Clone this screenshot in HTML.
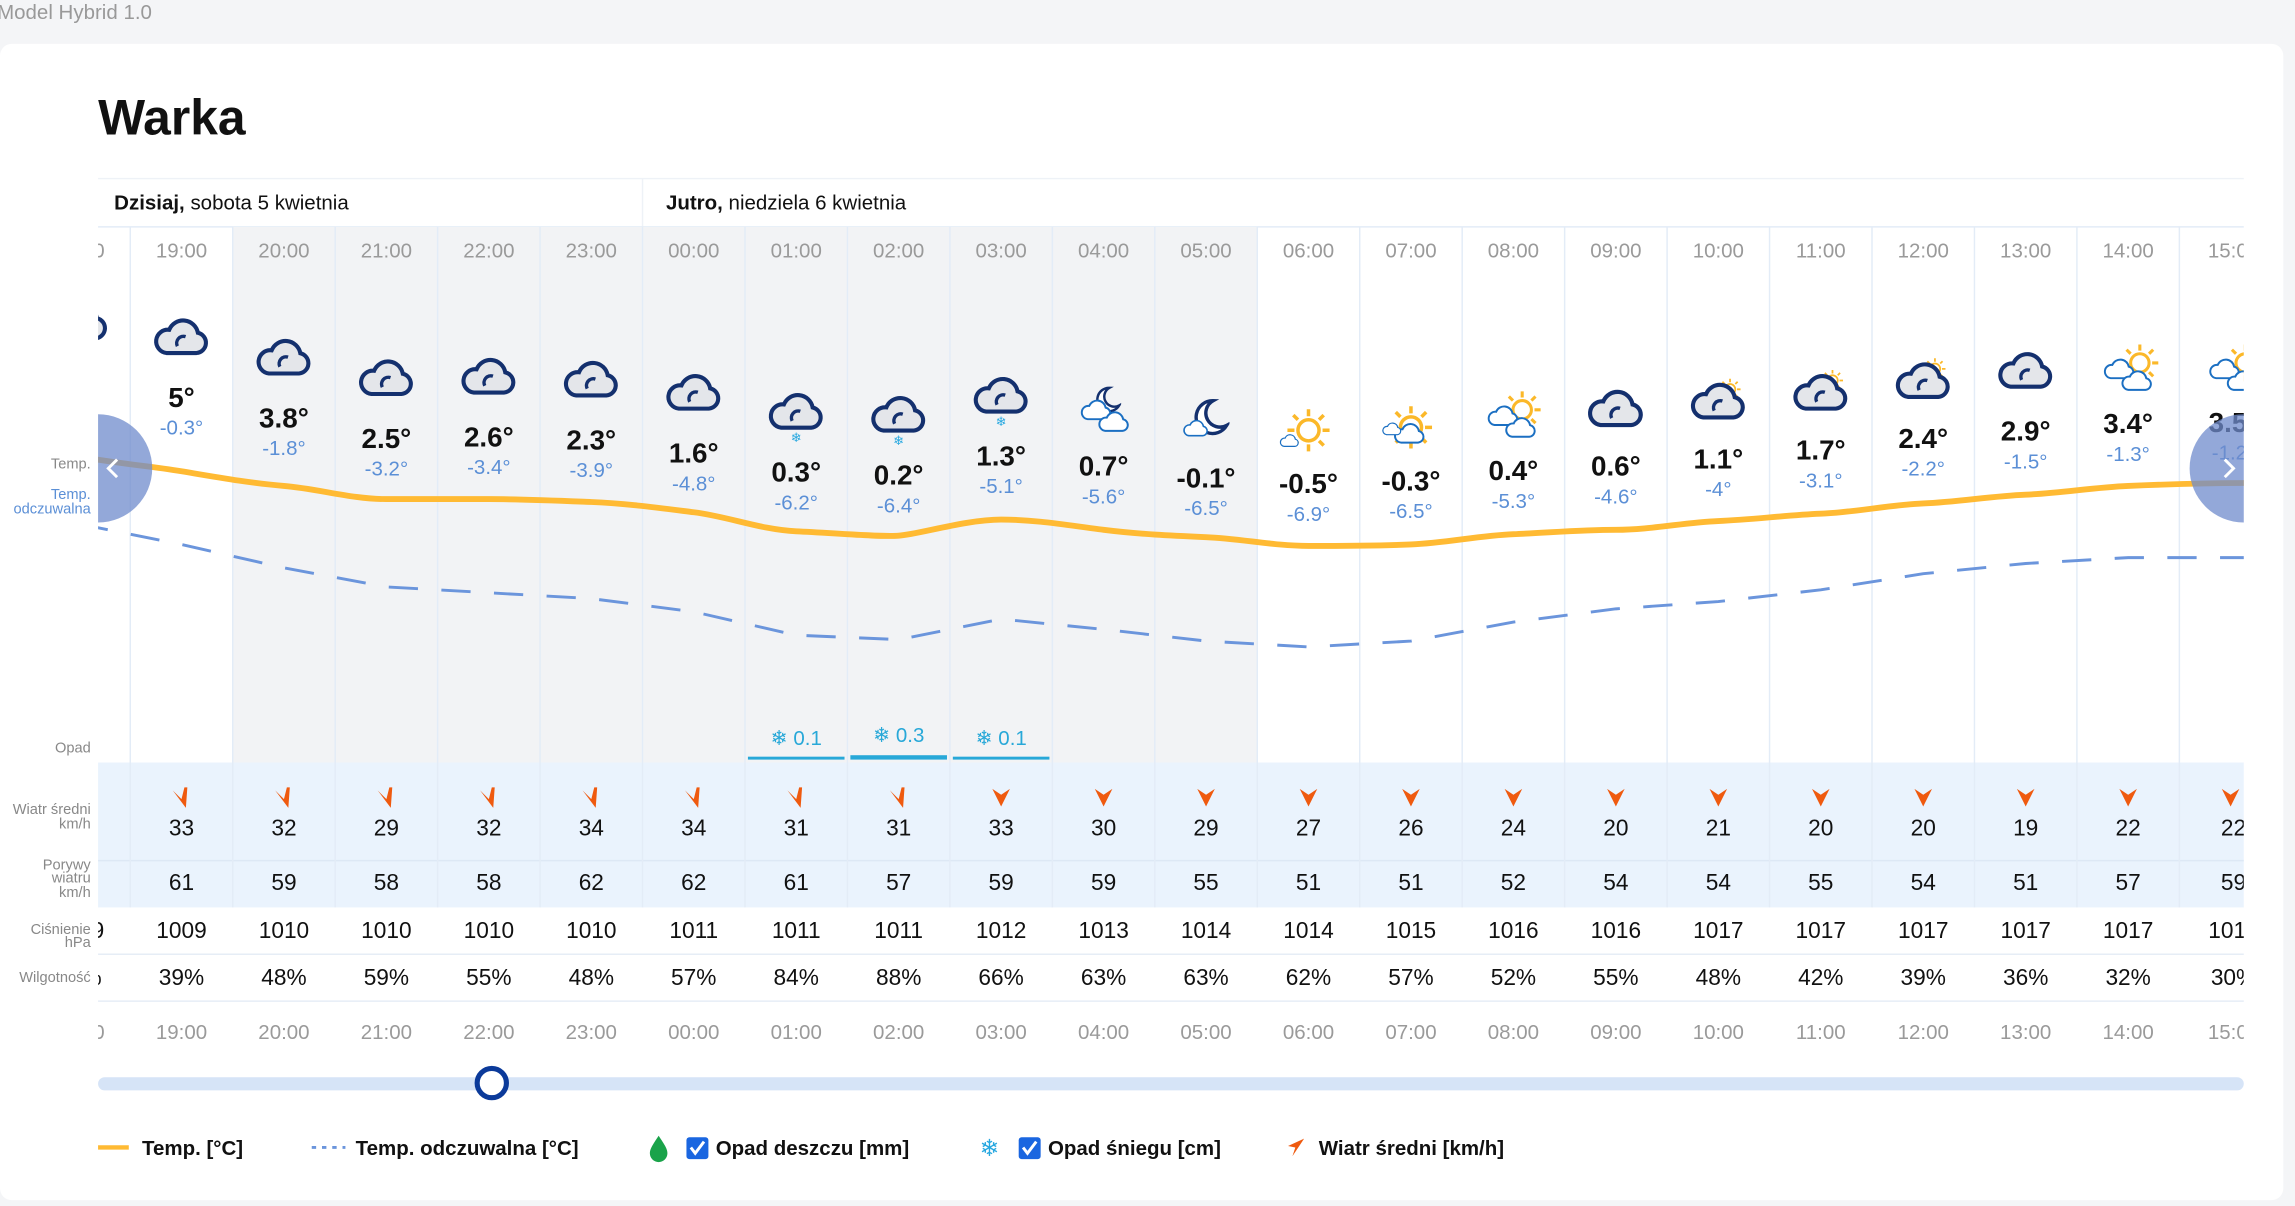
<!DOCTYPE html>
<html><head><meta charset="utf-8"><style>
html,body{margin:0;padding:0;background:#f4f5f7;}
svg{display:block;font-family:"Liberation Sans",sans-serif;}
.h{font-size:14px;fill:#9a9a9a;text-anchor:middle}
.t{font-size:19px;font-weight:bold;fill:#111;text-anchor:middle}
.f{font-size:14px;fill:#5b8fd6;text-anchor:middle}
.v{font-size:15.5px;fill:#111;text-anchor:middle}
.l{font-size:10px;fill:#888;text-anchor:end}
.g{font-size:14px;font-weight:bold;fill:#111}
</style></head><body>
<svg width="2295" height="1206" viewBox="0 0 1568 824" preserveAspectRatio="none">
<defs>
<symbol id="c" viewBox="0 0 40 30"><path d="M9 27H31a7.5 7.5 0 0 0 1-14.8A11 11 0 0 0 11 10a8.5 8.5 0 0 0-2 17z" fill="#e4e6ea" stroke="#14306e" stroke-width="3"/><path d="M17 22a5 5 0 0 1 6-7" fill="none" stroke="#14306e" stroke-width="2.5"/></symbol>
<symbol id="s" viewBox="0 0 40 40"><g stroke="#fbb829" stroke-width="3"><line x1="20" y1="2" x2="20" y2="8"/><line x1="20" y1="32" x2="20" y2="38"/><line x1="2" y1="20" x2="8" y2="20"/><line x1="32" y1="20" x2="38" y2="20"/><line x1="7" y1="7" x2="11" y2="11"/><line x1="29" y1="29" x2="33" y2="33"/><line x1="7" y1="33" x2="11" y2="29"/><line x1="29" y1="11" x2="33" y2="7"/></g><circle cx="20" cy="20" r="9" fill="#fff" stroke="#fbb829" stroke-width="3"/></symbol>
<symbol id="bc" viewBox="0 0 40 30"><path d="M9 27H31a7.5 7.5 0 0 0 1-14.8A11 11 0 0 0 11 10a8.5 8.5 0 0 0-2 17z" fill="#fff" stroke="#1b6fc2" stroke-width="2.5"/></symbol>
<symbol id="m" viewBox="0 0 30 30"><path d="M18 3a12 12 0 1 0 10 18A10 10 0 0 1 18 3z" fill="#fff" stroke="#14306e" stroke-width="2.5"/></symbol>
<symbol id="a" viewBox="0 0 14 16"><path d="M1 3 L7 9 L9 1 L11 1 L10 15 Z" fill="#ef5a0f"/></symbol>
<clipPath id="cp"><rect x="67" y="150" width="1466" height="580"/></clipPath>
</defs>
<text x="-2" y="13" font-size="14" fill="#999">Model Hybrid 1.0</text>
<rect x="0" y="30" width="1560" height="790" rx="8" fill="#fff"/>
<text x="67" y="92" font-size="34" font-weight="bold" fill="#111">Warka</text>
<line x1="67" y1="122" x2="1533" y2="122" stroke="#eef2f7"/>
<line x1="439" y1="122" x2="439" y2="155" stroke="#eef2f7"/>
<line x1="67" y1="155" x2="1533" y2="155" stroke="#e3ecf7"/>
<text x="78" y="143" font-size="14" fill="#111"><tspan font-weight="bold">Dzisiaj,</tspan> sobota 5 kwietnia</text>
<text x="455" y="143" font-size="14" fill="#111"><tspan font-weight="bold">Jutro,</tspan> niedziela 6 kwietnia</text>
<text class="l" x="62" y="320">Temp.</text>
<text class="l" x="62" y="341" fill="#5b8fd6" style="fill:#5b8fd6">Temp.</text>
<text class="l" x="62" y="351" style="fill:#5b8fd6">odczuwalna</text>
<text class="l" x="62" y="514">Opad</text>
<text class="l" x="62" y="556">Wiatr średni</text>
<text class="l" x="62" y="566">km/h</text>
<text class="l" x="62" y="594">Porywy</text>
<text class="l" x="62" y="603">wiatru</text>
<text class="l" x="62" y="613">km/h</text>
<text class="l" x="62" y="638">Ciśnienie</text>
<text class="l" x="62" y="647">hPa</text>
<text class="l" x="62" y="671">Wilgotność</text>
<g clip-path="url(#cp)">
<rect x="159" y="155" width="700" height="366" fill="#f2f3f5"/>
<rect x="0" y="521" width="1600" height="99" fill="#eaf3fd"/>
<line x1="0" y1="588" x2="1600" y2="588" stroke="#dde8f5"/>
<line x1="0" y1="652" x2="1600" y2="652" stroke="#e6edf6"/>
<line x1="0" y1="684" x2="1600" y2="684" stroke="#e6edf6"/>
<g stroke="#e3ecf7">
<line x1="89" y1="155" x2="89" y2="620"/><line x1="159" y1="155" x2="159" y2="620"/><line x1="229" y1="155" x2="229" y2="620"/><line x1="299" y1="155" x2="299" y2="620"/><line x1="369" y1="155" x2="369" y2="620"/><line x1="439" y1="155" x2="439" y2="620"/><line x1="509" y1="155" x2="509" y2="620"/><line x1="579" y1="155" x2="579" y2="620"/><line x1="649" y1="155" x2="649" y2="620"/><line x1="719" y1="155" x2="719" y2="620"/><line x1="789" y1="155" x2="789" y2="620"/><line x1="859" y1="155" x2="859" y2="620"/><line x1="929" y1="155" x2="929" y2="620"/><line x1="999" y1="155" x2="999" y2="620"/><line x1="1069" y1="155" x2="1069" y2="620"/><line x1="1139" y1="155" x2="1139" y2="620"/><line x1="1209" y1="155" x2="1209" y2="620"/><line x1="1279" y1="155" x2="1279" y2="620"/><line x1="1349" y1="155" x2="1349" y2="620"/><line x1="1419" y1="155" x2="1419" y2="620"/><line x1="1489" y1="155" x2="1489" y2="620"/>
</g>
<path d="M54 312 C90 318,100 318,124 322 S170 330,194 332 S240 341,264 341 S310 341,334 341 S380 342,404 343 S450 347,474 350 S520 362,544 363 S600 367,614 366 S660 355,684 355 S730 359,754 362 S800 366,824 367 S870 373,894 373 S940 373,964 372 S1010 366,1034 365 S1080 362,1104 362 S1150 357,1174 356 S1220 352,1244 351 S1290 345,1314 344 S1360 339,1384 338 S1430 333,1454 332 S1510 330,1540 330" fill="none" stroke="#ffba33" stroke-width="4"/>
<path d="M54 358 L124 372 L194 388 L264 401 L334 405 L404 409 L474 418 L544 434 L614 437 L684 423 L754 430 L824 438 L894 442 L964 438 L1034 425 L1104 416 L1174 411 L1244 403 L1314 392 L1384 385 L1454 381 L1540 381" fill="none" stroke="#6b95dc" stroke-width="2" stroke-dasharray="20 16"/>
<g class="h"><text class="h" x="54" y="176">18:00</text><text class="h" x="124" y="176">19:00</text><text class="h" x="194" y="176">20:00</text><text class="h" x="264" y="176">21:00</text><text class="h" x="334" y="176">22:00</text><text class="h" x="404" y="176">23:00</text><text class="h" x="474" y="176">00:00</text><text class="h" x="544" y="176">01:00</text><text class="h" x="614" y="176">02:00</text><text class="h" x="684" y="176">03:00</text><text class="h" x="754" y="176">04:00</text><text class="h" x="824" y="176">05:00</text><text class="h" x="894" y="176">06:00</text><text class="h" x="964" y="176">07:00</text><text class="h" x="1034" y="176">08:00</text><text class="h" x="1104" y="176">09:00</text><text class="h" x="1174" y="176">10:00</text><text class="h" x="1244" y="176">11:00</text><text class="h" x="1314" y="176">12:00</text><text class="h" x="1384" y="176">13:00</text><text class="h" x="1454" y="176">14:00</text><text class="h" x="1526" y="176">15:00</text></g>
<g class="h"><text class="h" x="54" y="710">18:00</text><text class="h" x="124" y="710">19:00</text><text class="h" x="194" y="710">20:00</text><text class="h" x="264" y="710">21:00</text><text class="h" x="334" y="710">22:00</text><text class="h" x="404" y="710">23:00</text><text class="h" x="474" y="710">00:00</text><text class="h" x="544" y="710">01:00</text><text class="h" x="614" y="710">02:00</text><text class="h" x="684" y="710">03:00</text><text class="h" x="754" y="710">04:00</text><text class="h" x="824" y="710">05:00</text><text class="h" x="894" y="710">06:00</text><text class="h" x="964" y="710">07:00</text><text class="h" x="1034" y="710">08:00</text><text class="h" x="1104" y="710">09:00</text><text class="h" x="1174" y="710">10:00</text><text class="h" x="1244" y="710">11:00</text><text class="h" x="1314" y="710">12:00</text><text class="h" x="1384" y="710">13:00</text><text class="h" x="1454" y="710">14:00</text><text class="h" x="1526" y="710">15:00</text></g>
<!-- icons -->
<use href="#c" x="36" y="206" width="38" height="28"/>
<use href="#c" x="105" y="216" width="38" height="28"/>
<use href="#c" x="175" y="230" width="38" height="28"/>
<use href="#c" x="245" y="244" width="38" height="28"/>
<use href="#c" x="315" y="243" width="38" height="28"/>
<use href="#c" x="385" y="245" width="38" height="28"/>
<use href="#c" x="455" y="254" width="38" height="28"/>
<use href="#c" x="525" y="267" width="38" height="28"/><text x="544" y="302" font-size="9" fill="#28a8e0" text-anchor="middle">❄</text>
<use href="#c" x="595" y="269" width="38" height="28"/><text x="614" y="304" font-size="9" fill="#28a8e0" text-anchor="middle">❄</text>
<use href="#c" x="665" y="256" width="38" height="28"/><text x="684" y="291" font-size="9" fill="#28a8e0" text-anchor="middle">❄</text>
<use href="#m" x="746" y="263" width="20" height="20"/><use href="#bc" x="738" y="272" width="22" height="16"/><use href="#bc" x="750" y="280" width="22" height="16"/>
<use href="#m" x="812" y="271" width="28" height="28"/><use href="#bc" x="808" y="286" width="18" height="13"/>
<use href="#s" x="878" y="278" width="32" height="32"/><use href="#bc" x="874" y="296" width="14" height="10"/>
<use href="#s" x="948" y="276" width="32" height="32"/><use href="#bc" x="952" y="288" width="22" height="16"/><use href="#bc" x="944" y="288" width="14" height="10"/>
<use href="#s" x="1026" y="266" width="28" height="28"/><use href="#bc" x="1016" y="276" width="22" height="16"/><use href="#bc" x="1028" y="284" width="22" height="16"/>
<use href="#c" x="1085" y="264" width="38" height="30"/>
<use href="#s" x="1174" y="258" width="16" height="16"/><use href="#c" x="1155" y="260" width="38" height="28"/>
<use href="#s" x="1244" y="252" width="16" height="16"/><use href="#c" x="1225" y="254" width="38" height="28"/>
<use href="#s" x="1314" y="244" width="16" height="16"/><use href="#c" x="1295" y="246" width="38" height="28"/>
<use href="#c" x="1365" y="239" width="38" height="28"/>
<use href="#s" x="1448" y="234" width="28" height="28"/><use href="#bc" x="1437" y="244" width="22" height="16"/><use href="#bc" x="1449" y="252" width="22" height="16"/>
<use href="#s" x="1520" y="234" width="28" height="28"/><use href="#bc" x="1509" y="244" width="22" height="16"/><use href="#bc" x="1521" y="252" width="22" height="16"/>
<!-- temps -->
<text class="t" x="124" y="278">5°</text><text class="f" x="124" y="297">-0.3°</text>
<text class="t" x="194" y="292">3.8°</text><text class="f" x="194" y="311">-1.8°</text>
<text class="t" x="264" y="306">2.5°</text><text class="f" x="264" y="325">-3.2°</text>
<text class="t" x="334" y="305">2.6°</text><text class="f" x="334" y="324">-3.4°</text>
<text class="t" x="404" y="307">2.3°</text><text class="f" x="404" y="326">-3.9°</text>
<text class="t" x="474" y="316">1.6°</text><text class="f" x="474" y="335">-4.8°</text>
<text class="t" x="544" y="329">0.3°</text><text class="f" x="544" y="348">-6.2°</text>
<text class="t" x="614" y="331">0.2°</text><text class="f" x="614" y="350">-6.4°</text>
<text class="t" x="684" y="318">1.3°</text><text class="f" x="684" y="337">-5.1°</text>
<text class="t" x="754" y="325">0.7°</text><text class="f" x="754" y="344">-5.6°</text>
<text class="t" x="824" y="333">-0.1°</text><text class="f" x="824" y="352">-6.5°</text>
<text class="t" x="894" y="337">-0.5°</text><text class="f" x="894" y="356">-6.9°</text>
<text class="t" x="964" y="335">-0.3°</text><text class="f" x="964" y="354">-6.5°</text>
<text class="t" x="1034" y="328">0.4°</text><text class="f" x="1034" y="347">-5.3°</text>
<text class="t" x="1104" y="325">0.6°</text><text class="f" x="1104" y="344">-4.6°</text>
<text class="t" x="1174" y="320">1.1°</text><text class="f" x="1174" y="339">-4°</text>
<text class="t" x="1244" y="314">1.7°</text><text class="f" x="1244" y="333">-3.1°</text>
<text class="t" x="1314" y="306">2.4°</text><text class="f" x="1314" y="325">-2.2°</text>
<text class="t" x="1384" y="301">2.9°</text><text class="f" x="1384" y="320">-1.5°</text>
<text class="t" x="1454" y="296">3.4°</text><text class="f" x="1454" y="315">-1.3°</text>
<text class="t" x="1526" y="295">3.5°</text><text class="f" x="1526" y="314">-1.2°</text>
<!-- snow -->
<g font-size="14" fill="#28a8d8" text-anchor="middle"><text x="544" y="509">❄  0.1</text><text x="614" y="507">❄  0.3</text><text x="684" y="509">❄  0.1</text></g>
<rect x="511" y="517" width="66" height="2" fill="#28a8d8"/><rect x="581" y="516" width="66" height="3" fill="#28a8d8"/><rect x="651" y="517" width="66" height="2" fill="#28a8d8"/>
<!-- wind arrows -->
<g>
<use href="#a" x="117" y="537" width="14" height="16"/><use href="#a" x="187" y="537" width="14" height="16"/><use href="#a" x="257" y="537" width="14" height="16"/><use href="#a" x="327" y="537" width="14" height="16"/><use href="#a" x="397" y="537" width="14" height="16"/><use href="#a" x="467" y="537" width="14" height="16"/><use href="#a" x="537" y="537" width="14" height="16"/><use href="#a" x="607" y="537" width="14" height="16"/>
</g>
<g fill="#ef5a0f">
<path d="M678 539 L684 551 L690 539 L684 543Z"/><path d="M748 539 L754 551 L760 539 L754 543Z"/><path d="M818 539 L824 551 L830 539 L824 543Z"/><path d="M888 539 L894 551 L900 539 L894 543Z"/><path d="M958 539 L964 551 L970 539 L964 543Z"/><path d="M1028 539 L1034 551 L1040 539 L1034 543Z"/><path d="M1098 539 L1104 551 L1110 539 L1104 543Z"/><path d="M1168 539 L1174 551 L1180 539 L1174 543Z"/><path d="M1238 539 L1244 551 L1250 539 L1244 543Z"/><path d="M1308 539 L1314 551 L1320 539 L1314 543Z"/><path d="M1378 539 L1384 551 L1390 539 L1384 543Z"/><path d="M1448 539 L1454 551 L1460 539 L1454 543Z"/><path d="M1518 539 L1524 551 L1530 539 L1524 543Z"/>
</g>
<g class="v"><text class="v" x="124" y="571">33</text><text class="v" x="194" y="571">32</text><text class="v" x="264" y="571">29</text><text class="v" x="334" y="571">32</text><text class="v" x="404" y="571">34</text><text class="v" x="474" y="571">34</text><text class="v" x="544" y="571">31</text><text class="v" x="614" y="571">31</text><text class="v" x="684" y="571">33</text><text class="v" x="754" y="571">30</text><text class="v" x="824" y="571">29</text><text class="v" x="894" y="571">27</text><text class="v" x="964" y="571">26</text><text class="v" x="1034" y="571">24</text><text class="v" x="1104" y="571">20</text><text class="v" x="1174" y="571">21</text><text class="v" x="1244" y="571">20</text><text class="v" x="1314" y="571">20</text><text class="v" x="1384" y="571">19</text><text class="v" x="1454" y="571">22</text><text class="v" x="1526" y="571">22</text></g>
<g><text class="v" x="124" y="608">61</text><text class="v" x="194" y="608">59</text><text class="v" x="264" y="608">58</text><text class="v" x="334" y="608">58</text><text class="v" x="404" y="608">62</text><text class="v" x="474" y="608">62</text><text class="v" x="544" y="608">61</text><text class="v" x="614" y="608">57</text><text class="v" x="684" y="608">59</text><text class="v" x="754" y="608">59</text><text class="v" x="824" y="608">55</text><text class="v" x="894" y="608">51</text><text class="v" x="964" y="608">51</text><text class="v" x="1034" y="608">52</text><text class="v" x="1104" y="608">54</text><text class="v" x="1174" y="608">54</text><text class="v" x="1244" y="608">55</text><text class="v" x="1314" y="608">54</text><text class="v" x="1384" y="608">51</text><text class="v" x="1454" y="608">57</text><text class="v" x="1526" y="608">59</text></g>
<g><text class="v" x="54" y="641">1009</text><text class="v" x="124" y="641">1009</text><text class="v" x="194" y="641">1010</text><text class="v" x="264" y="641">1010</text><text class="v" x="334" y="641">1010</text><text class="v" x="404" y="641">1010</text><text class="v" x="474" y="641">1011</text><text class="v" x="544" y="641">1011</text><text class="v" x="614" y="641">1011</text><text class="v" x="684" y="641">1012</text><text class="v" x="754" y="641">1013</text><text class="v" x="824" y="641">1014</text><text class="v" x="894" y="641">1014</text><text class="v" x="964" y="641">1015</text><text class="v" x="1034" y="641">1016</text><text class="v" x="1104" y="641">1016</text><text class="v" x="1174" y="641">1017</text><text class="v" x="1244" y="641">1017</text><text class="v" x="1314" y="641">1017</text><text class="v" x="1384" y="641">1017</text><text class="v" x="1454" y="641">1017</text><text class="v" x="1526" y="641">1017</text></g>
<g><text class="v" x="54" y="673">35%</text><text class="v" x="124" y="673">39%</text><text class="v" x="194" y="673">48%</text><text class="v" x="264" y="673">59%</text><text class="v" x="334" y="673">55%</text><text class="v" x="404" y="673">48%</text><text class="v" x="474" y="673">57%</text><text class="v" x="544" y="673">84%</text><text class="v" x="614" y="673">88%</text><text class="v" x="684" y="673">66%</text><text class="v" x="754" y="673">63%</text><text class="v" x="824" y="673">63%</text><text class="v" x="894" y="673">62%</text><text class="v" x="964" y="673">57%</text><text class="v" x="1034" y="673">52%</text><text class="v" x="1104" y="673">55%</text><text class="v" x="1174" y="673">48%</text><text class="v" x="1244" y="673">42%</text><text class="v" x="1314" y="673">39%</text><text class="v" x="1384" y="673">36%</text><text class="v" x="1454" y="673">32%</text><text class="v" x="1526" y="673">30%</text></g>
<circle cx="67" cy="320" r="37" fill="#6f8bcc" opacity="0.75"/>
<circle cx="1533" cy="320" r="37" fill="#6f8bcc" opacity="0.75"/>
</g>
<path d="M80 314 L74 320 L80 326" fill="none" stroke="#fff" stroke-width="2"/>
<path d="M1520 314 L1526 320 L1520 326" fill="none" stroke="#fff" stroke-width="2"/>
<rect x="67" y="736" width="1466" height="9" rx="4.5" fill="#d6e4f7"/>
<circle cx="336" cy="740" r="10" fill="#fff" stroke="#0b3a9a" stroke-width="3.5"/>
<line x1="67" y1="784" x2="88" y2="784" stroke="#ffba33" stroke-width="3"/>
<text class="g" x="97" y="789">Temp. [°C]</text>
<line x1="213" y1="784" x2="236" y2="784" stroke="#6b95dc" stroke-width="2" stroke-dasharray="3 4"/>
<text class="g" x="243" y="789">Temp. odczuwalna [°C]</text>
<path d="M450 776 C454 782,456 785,456 788 A5.5 5.5 0 0 1 444 788 C444 785,446 782,450 776Z" fill="#1aa34a"/>
<rect x="469" y="777" width="15" height="15" rx="2" fill="#1a66e0"/><path d="M472 784 L475 788 L481 780" fill="none" stroke="#fff" stroke-width="2"/>
<text class="g" x="489" y="789">Opad deszczu [mm]</text>
<text x="676" y="790" font-size="16" fill="#28a8e0" text-anchor="middle">❄</text>
<rect x="696" y="777" width="15" height="15" rx="2" fill="#1a66e0"/><path d="M699 784 L702 788 L708 780" fill="none" stroke="#fff" stroke-width="2"/>
<text class="g" x="716" y="789">Opad śniegu [cm]</text>
<path d="M891 778 L880 783 L885 784 L883 790 Z" fill="#ef5a0f"/>
<text class="g" x="901" y="789">Wiatr średni [km/h]</text>
</svg>
</body></html>
